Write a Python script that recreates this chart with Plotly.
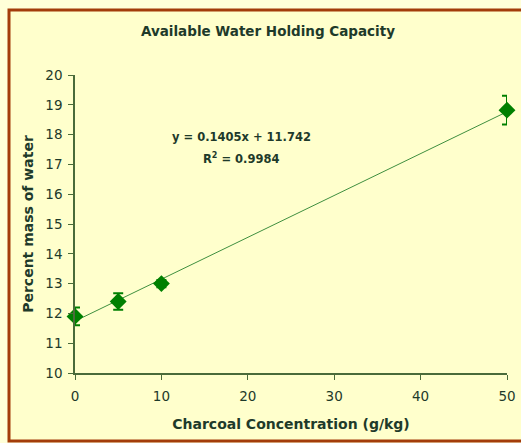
import plotly.graph_objects as go

conc = [0, 5, 10, 50]
water = [11.9, 12.4, 13.0, 18.82]
err = [0.3, 0.28, 0.12, 0.48]
slope = 0.1405
intercept = 11.742
r2 = 0.9984
x_ticks = [0, 10, 20, 30, 40, 50]
y_ticks = list(range(10, 21))

GREEN = "#008000"
AXIS = "#4a6b3a"
TXT = "#1e3a2a"
FONT = "DejaVu Sans"

fig = go.Figure()
trend_x = [min(conc), max(conc)]
trend_y = [slope * v + intercept for v in trend_x]
fig.add_trace(go.Scatter(x=trend_x, y=trend_y, mode="lines",
                         line=dict(color="#3f8f3f", width=1), hoverinfo="skip"))
fig.add_trace(go.Scatter(x=conc, y=water, mode="markers", cliponaxis=False,
                         marker=dict(symbol="diamond", size=13, color=GREEN),
                         error_y=dict(type="data", array=err, visible=True,
                                      color=GREEN, thickness=2, width=5)))

eq_line1 = f"<b>y = {slope}x + {intercept}</b>"
eq_line2 = f"<b>R<sup>2</sup> = {r2}</b>"

fig.update_layout(
    width=521, height=443,
    margin=dict(l=75, r=14, t=75, b=70),
    paper_bgcolor="#ffffd8",
    plot_bgcolor="rgba(0,0,0,0)",
    showlegend=False,
    font=dict(family=FONT, color=TXT, size=12),
    title=dict(text="<b>Available Water Holding Capacity</b>", x=(268) / 521, xanchor="center",
               y=1 - 31 / 443, yanchor="middle", font=dict(size=13.5, color=TXT)),
    xaxis=dict(range=[0, 50], tickvals=x_ticks, showgrid=False, zeroline=False,
               automargin=False, ticklabelstandoff=5,
               showline=True, linecolor=AXIS, linewidth=1.5, ticks="outside",
               tickcolor=AXIS, ticklen=5, tickfont=dict(size=13.5, color=TXT),
               title=dict(text="<b>Charcoal Concentration (g/kg)</b>", standoff=16,
                          font=dict(size=14, color=TXT))),
    yaxis=dict(range=[10, 20], tickvals=y_ticks, showgrid=False, zeroline=False,
               automargin=False, ticklabelstandoff=3,
               showline=True, linecolor=AXIS, linewidth=1.5, ticks="outside",
               tickcolor=AXIS, ticklen=5, tickfont=dict(size=13.5, color=TXT),
               title=dict(text="<b>Percent mass of water</b>", standoff=8,
                          font=dict(size=14, color=TXT))),
    shapes=[dict(type="rect", xref="paper", yref="paper", layer="below",
                 x0=-66 / 432, x1=2.0,
                 y0=(373 - 441) / 298, y1=(373 - 10) / 298,
                 line=dict(color="#a33c0a", width=3), fillcolor="#ffffcc")],
    annotations=[
        dict(xref="paper", yref="paper", x=(241 - 75) / 432, y=(373 - 128) / 298,
             text=eq_line1, showarrow=False, font=dict(size=11.5, color=TXT)),
        dict(xref="paper", yref="paper", x=(241 - 75) / 432, y=(373 - 149) / 298,
             text=eq_line2, showarrow=False, font=dict(size=11.5, color=TXT)),
    ],
)
fig.write_html("out.html", config={"displayModeBar": False},
               post_script="document.body.style.margin='0';document.body.style.overflow='hidden';")
